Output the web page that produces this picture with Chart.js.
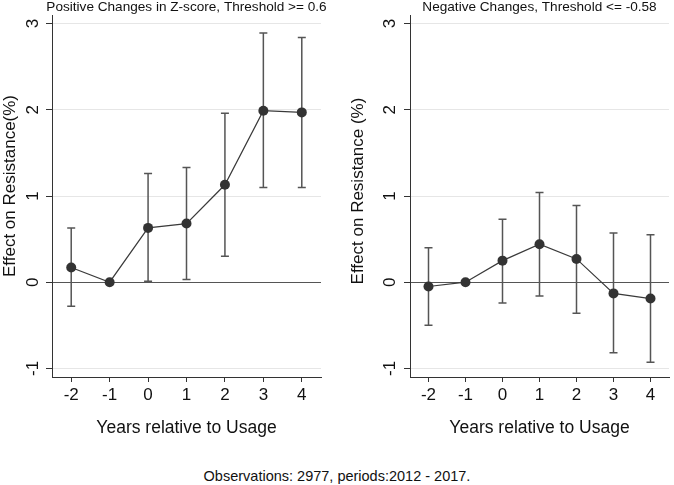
<!DOCTYPE html>
<html>
<head>
<meta charset="utf-8">
<script src="https://cdn.jsdelivr.net/npm/chart.js@4.4.1/dist/chart.umd.min.js"></script>
<style>
  html, body { margin: 0; padding: 0; background: #fff; }
  body { width: 674px; height: 485px; position: relative; overflow: hidden; font-family: "Liberation Sans", Arial, sans-serif; }
  .panel { position: absolute; top: 0; width: 337px; height: 445px; }
  #left { left: 0; }
  #right { left: 337px; }
  #note { position: absolute; left: 0; width: 674px; top: 468px; line-height: 17px; text-align: center; font-size: 14.5px; color: #111; }
</style>
</head>
<body>
<div class="panel" id="left"><canvas id="posChart" width="337" height="445"></canvas></div>
<div class="panel" id="right"><canvas id="negChart" width="337" height="445"></canvas></div>
<div id="note">Observations: 2977, periods:2012 - 2017.</div>
<script>
// event-study estimates
const years = [-2, -1, 0, 1, 2, 3, 4];
const yTicks = [-1, 0, 1, 2, 3];

const posEffect = [0.17, 0, 0.63, 0.68, 1.13, 1.99, 1.97];
const posLow = [-0.28, null, 0.01, 0.03, 0.30, 1.10, 1.10];
const posHigh = [0.63, null, 1.26, 1.33, 1.96, 2.89, 2.84];

const negEffect = [-0.05, 0, 0.25, 0.44, 0.27, -0.13, -0.19];
const negLow = [-0.50, null, -0.24, -0.16, -0.36, -0.82, -0.93];
const negHigh = [0.40, null, 0.73, 1.04, 0.89, 0.57, 0.55];

const FONT = '"Liberation Sans", Arial, sans-serif';
const INK = '#111';

// confidence intervals, drawn under the points
const errorBars = {
  id: 'errorBars',
  beforeDatasetsDraw(chart, args, opts) {
    const { ctx, scales: { x, y } } = chart;
    ctx.save();
    ctx.strokeStyle = '#555';
    ctx.lineWidth = 1.5;
    opts.low.forEach((lo, i) => {
      const hi = opts.high[i];
      if (lo == null || hi == null) return;
      const px = x.getPixelForValue(years[i]);
      const y1 = y.getPixelForValue(lo);
      const y2 = y.getPixelForValue(hi);
      ctx.beginPath();
      ctx.moveTo(px, y1); ctx.lineTo(px, y2);
      ctx.moveTo(px - 4, y1); ctx.lineTo(px + 4, y1);
      ctx.moveTo(px - 4, y2); ctx.lineTo(px + 4, y2);
      ctx.stroke();
    });
    ctx.restore();
  }
};

// title, rotated y tick labels and y title
const panelText = {
  id: 'panelText',
  afterDraw(chart, args, opts) {
    const { ctx, chartArea: a, scales: { y } } = chart;
    ctx.save();
    ctx.fillStyle = INK;
    ctx.textAlign = 'center';
    ctx.textBaseline = 'middle';
    ctx.font = '13.6px ' + FONT;
    ctx.fillText(opts.title, (a.left + a.right) / 2, 7);

    ctx.font = '17px ' + FONT;
    y.ticks.forEach(t => {
      ctx.save();
      ctx.translate(opts.tickX, y.getPixelForValue(t.value));
      ctx.rotate(-Math.PI / 2);
      ctx.fillText(String(t.value), 0, 0);
      ctx.restore();
    });

    ctx.font = '17px ' + FONT;
    ctx.translate(opts.yTitleX, opts.yTitleY);
    ctx.rotate(-Math.PI / 2);
    ctx.fillText(opts.yTitle, 0, 0);
    ctx.restore();
  }
};

function makePanel(canvasId, effect, low, high, title, yTitle, geo) {
  const ctx = document.getElementById(canvasId);
  return new Chart(ctx, {
    type: 'scatter',
    data: {
      datasets: [{
        data: years.map((yr, i) => ({ x: yr, y: effect[i] })),
        showLine: true,
        borderColor: '#3a3a3a',
        borderWidth: 1.2,
        backgroundColor: '#333',
        pointBackgroundColor: '#333',
        pointBorderWidth: 0,
        pointRadius: 5,
        tension: 0
      }]
    },
    options: {
      responsive: false,
      animation: false,
      layout: { padding: { top: 15, right: geo.padRight, left: 0, bottom: 0 } },
      plugins: {
        legend: { display: false },
        tooltip: { enabled: false },
        errorBars: { low, high },
        panelText: { title, yTitle, tickX: geo.tickX, yTitleX: geo.yTitleX, yTitleY: geo.yTitleY }
      },
      scales: {
        x: {
          type: 'linear',
          min: -2.5,
          max: 4.5,
          afterBuildTicks: s => { s.ticks = years.map(v => ({ value: v })); },
          afterFit: s => { s.height = 68; },
          grid: { drawOnChartArea: false, drawTicks: true, tickLength: 5, tickColor: '#333', lineWidth: 1 },
          border: { display: true, color: '#333', width: 1 },
          ticks: { color: INK, font: { family: FONT, size: 17 }, padding: 3, maxRotation: 0 },
          title: {
            display: true,
            text: 'Years relative to Usage',
            color: INK,
            font: { family: FONT, size: 17.5 },
            padding: { top: 0, bottom: 6 }
          }
        },
        y: {
          type: 'linear',
          min: -1.1,
          max: 3.1,
          afterBuildTicks: s => { s.ticks = yTicks.map(v => ({ value: v })); },
          afterFit: s => { s.width = geo.axisX; },
          grid: {
            color: c => (c.tick && c.tick.value === 0) ? '#555' : '#e6e6e6',
            lineWidth: 1,
            tickLength: 6,
            tickColor: '#333'
          },
          border: { display: true, color: '#333', width: 1 },
          ticks: { display: false }
        }
      }
    },
    plugins: [errorBars, panelText]
  });
}

makePanel('posChart', posEffect, posLow, posHigh,
  'Positive Changes in Z-score, Threshold >= 0.6', 'Effect on Resistance(%)',
  { axisX: 52, padRight: 16, tickX: 33, yTitleX: 10, yTitleY: 186 });

makePanel('negChart', negEffect, negLow, negHigh,
  'Negative Changes, Threshold <= -0.58', 'Effect on Resistance (%)',
  { axisX: 73, padRight: 2, tickX: 53, yTitleX: 21, yTitleY: 191 });
</script>
</body>
</html>
